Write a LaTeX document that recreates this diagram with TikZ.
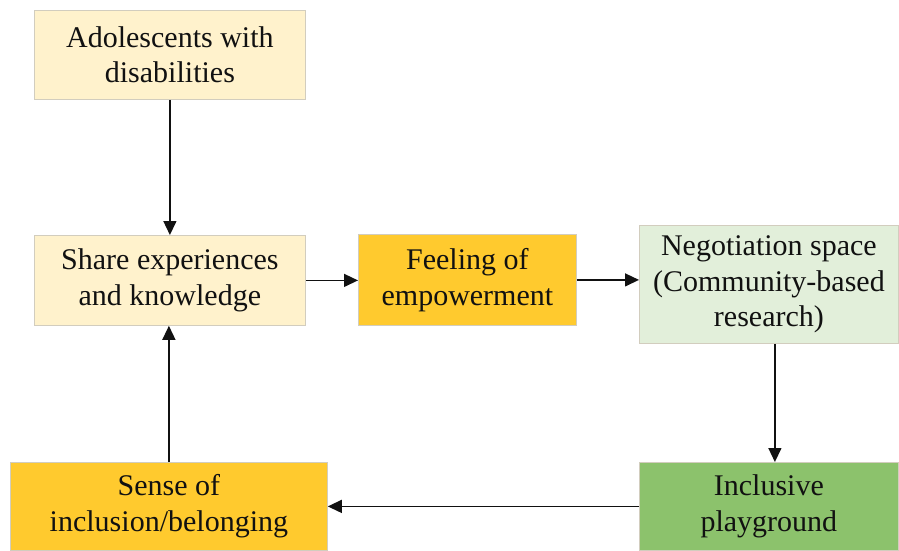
\documentclass[tikz,border=0pt]{standalone}
\usepackage{fontspec}
\setmainfont{Liberation Serif}
\usepackage{xcolor}
\usetikzlibrary{arrows.meta,positioning,calc}
\definecolor{cCream}{HTML}{FFF2CC}
\definecolor{cGold}{HTML}{FFCA2E}
\definecolor{cMint}{HTML}{E2EFDA}
\definecolor{cLeaf}{HTML}{8CC26C}
\definecolor{cEdge}{HTML}{D2CDBE}
\definecolor{cInk}{HTML}{111111}

\begin{document}
\begin{tikzpicture}[x=1pt, y=-1pt,
  >={Triangle[length=14pt,width=13pt]},
  box/.style={rectangle, draw=cEdge, line width=0.8pt, fill=#1, align=center,
     inner sep=2pt, text=cInk, font=\fontsize{30}{35.5}\selectfont},
  flow/.style={->, line width=1.4pt, draw=cInk},
]
\useasboundingbox (0,0) rectangle (899,550);

% =================== BOXES ===================
\node[box=cCream, minimum width=271pt, minimum height=89pt, anchor=north west] at (34,10) (ado)
 {Adolescents with\\disabilities};

\node[box=cCream, minimum width=271pt, minimum height=90pt, anchor=north west] at (34,235) (share)
 {Share experiences\\and knowledge};

\node[box=cGold, minimum width=218pt, minimum height=91pt, anchor=north west] at (358,234) (feel)
 {Feeling of\\empowerment};

\node[box=cMint, minimum width=259pt, minimum height=118pt, anchor=north west] at (639,225) (neg)
 {Negotiation space\\(Community-based\\research)};

\node[box=cLeaf, minimum width=259pt, minimum height=88pt, anchor=north west] at (639,462) (play)
 {Inclusive\\playground};

\node[box=cGold, minimum width=317pt, minimum height=88pt, anchor=north west] at (10,462) (sense)
 {Sense of\\inclusion/belonging};

% =================== ARROWS ===================
\draw[flow] (ado.south) -- (share.north);
\draw[flow] (share.east) -- (share.east -| feel.west);
\draw[flow] (feel.east) -- (feel.east -| neg.west);
\draw[flow] ([xshift=6pt]neg.south) -- ([xshift=6pt]play.north);
\draw[flow] (play.west) -- (play.west -| sense.east);
\draw[flow] (sense.north) -- (sense.north |- share.south);

\end{tikzpicture}
\end{document}
